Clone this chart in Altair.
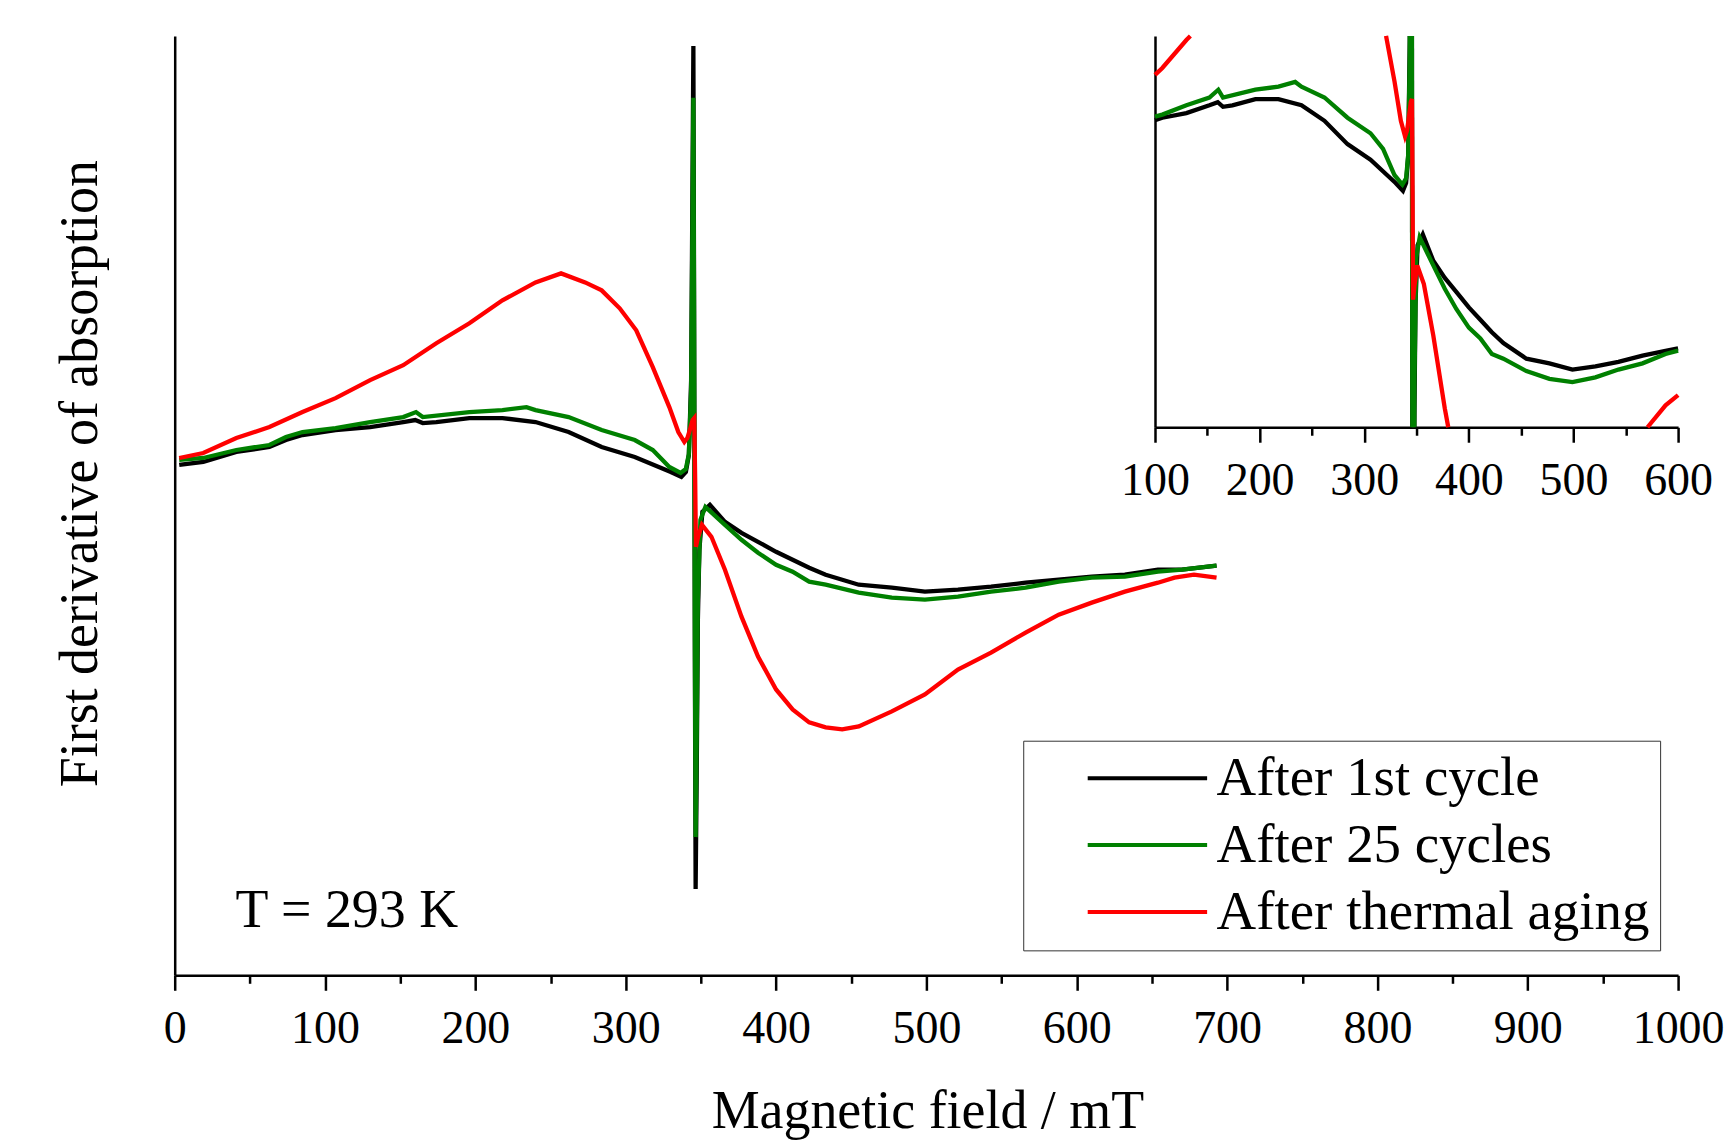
import altair as alt
import pandas as pd

# ---------------- data (y in arbitrary units) ----------------
series_names = ["After 1st cycle", "After 25 cycles", "After thermal aging"]
series_colors = ["#000000", "#008000", "#ff0000"]

black_x = [3, 19, 41, 63, 74, 85, 107, 130, 152, 160, 165, 174, 196, 218, 240, 262, 284, 306, 322, 330,
           337, 340, 342, 343.5, 344.5, 345, 345.5, 346, 346.5, 347.2, 348, 349, 351, 356, 366, 377, 388,
           400, 411, 422, 433, 455, 477, 499, 521, 543, 566, 588, 610, 632, 654, 670, 693]
black_y = [-5, -2, 8, 13, 20, 25, 30, 33, 38, 40, 37, 38, 42, 42, 38, 28, 13, 3, -7, -12,
           -17, -12, 5, 80, 300, 415, 150, -200, -430, -320, -160, -90, -52, -45, -62, -73, -82,
           -92, -100, -108, -115, -125, -128, -132, -130, -127, -123, -120, -117, -115, -110, -110, -106]

green_x = [3, 19, 41, 63, 74, 85, 107, 130, 152, 160.5, 165, 196, 218, 234, 240, 262, 284, 306, 318, 329,
           336.5, 340, 342, 343.5, 344.5, 345, 345.5, 346, 346.5, 347.2, 348, 349.7, 353, 366, 377, 388,
           400, 411, 422, 433, 455, 477, 499, 521, 543, 566, 588, 610, 632, 654, 670, 693]
green_y = [0, 2, 10, 15, 23, 28, 32, 38, 43, 48, 43, 48, 50, 53, 50, 43, 30, 20, 10, -7,
           -13, -9, 6, 70, 260, 363, 120, -180, -378, -280, -140, -60, -47, -65, -80, -93,
           -105, -112, -122, -125, -133, -138, -140, -137, -132, -128, -122, -118, -117, -112, -110, -106]

red_x = [3, 19, 41, 63, 85, 107, 130, 152, 174, 196, 218, 240, 257, 273, 284, 296, 307, 318, 329, 335,
         339, 341, 343, 344.5, 345.6, 346.2, 346.7, 348, 350.7, 357, 366, 377, 388, 400, 411, 422, 433,
         444, 455, 477, 499, 521, 543, 566, 588, 610, 632, 654, 665, 678, 693]
red_y = [2, 7, 22, 33, 48, 62, 80, 95, 117, 137, 160, 178, 187, 178, 170, 152, 130, 93, 53, 28,
         18, 22, 32, 40, 42, -20, -87, -78, -65, -77, -110, -157, -197, -230, -250, -263, -268,
         -270, -267, -252, -235, -210, -193, -173, -155, -143, -132, -123, -118, -115, -118]

x_ticks_main = list(range(0, 1001, 50))
x_ticks_inset = list(range(100, 601, 50))

main_x_domain = [0, 1000]
main_y_domain = [-516.5, 425]
inset_x_domain = [100, 600]
inset_y_domain = [-169.1, 82.6]

annotation_text = ["T = 293 K"]
annotation_x = [40.5]
annotation_y = [-468]

FONT = "Liberation Serif"
W, H = 1506, 941
INSET_LEFT, INSET_BOTTOM = 982, 392

series_data = [(series_names[0], black_x, black_y),
               (series_names[1], green_x, green_y),
               (series_names[2], red_x, red_y)]

# main table
rows = []
for name, xs, ys in series_data:
    for i, (x, y) in enumerate(zip(xs, ys)):
        rows.append({"field": x, "signal": y, "series": name, "seg": name, "idx": i})
main_df = pd.DataFrame(rows)


def clip_poly(xs, ys, x0, x1, y0, y1):
    """Clip a polyline to a rectangle (Liang-Barsky), returning separate pieces."""
    pieces, cur = [], None
    for i in range(len(xs) - 1):
        ax, ay, bx, by = xs[i], ys[i], xs[i + 1], ys[i + 1]
        dx, dy = bx - ax, by - ay
        t0, t1, ok = 0.0, 1.0, True
        for p, q in ((-dx, ax - x0), (dx, x1 - ax), (-dy, ay - y0), (dy, y1 - ay)):
            if p == 0:
                if q < 0:
                    ok = False
                    break
            else:
                r = q / p
                if p < 0:
                    if r > t1:
                        ok = False
                        break
                    t0 = max(t0, r)
                else:
                    if r < t0:
                        ok = False
                        break
                    t1 = min(t1, r)
        if not ok:
            cur = None
            continue
        p0 = (ax + t0 * dx, ay + t0 * dy)
        p1 = (ax + t1 * dx, ay + t1 * dy)
        if cur is not None and t0 == 0.0:
            cur.append(p1)
        else:
            cur = [p0, p1]
            pieces.append(cur)
        if t1 < 1.0:
            cur = None
    return pieces


rows = []
for name, xs, ys in series_data:
    pieces = clip_poly(xs, ys, inset_x_domain[0], inset_x_domain[1], inset_y_domain[0], inset_y_domain[1])
    k = 0
    for j, piece in enumerate(pieces):
        for (x, y) in piece:
            rows.append({"field": x, "signal": y, "series": name, "seg": f"{name}-{j}", "idx": k})
            k += 1
inset_df = pd.DataFrame(rows)

text_df = pd.DataFrame({"field": annotation_x, "signal": annotation_y, "label": annotation_text})

# ---------------- encodings ----------------
major_test = "datum.value % 100 === 0"
tick_size = {"condition": {"test": major_test, "value": 15}, "value": 8}

axis_common = dict(
    domainColor="black", domainWidth=2.5, tickColor="black", tickWidth=2.5,
    labelFont=FONT, labelFontSize=46, labelColor="black", grid=False,
    labelFlush=False, labelOverlap=False,
)

x_main = alt.X(
    "field:Q",
    scale=alt.Scale(domain=main_x_domain, nice=False, zero=False),
    axis=alt.Axis(
        values=x_ticks_main, format="d",
        labelExpr=f"{major_test} ? datum.label : ''",
        tickSize=tick_size, labelPadding=52, labelBaseline="alphabetic",
        title="Magnetic field / mT", titleFont=FONT, titleFontSize=54, titleFontWeight="normal",
        titleColor="black", titleX=754, titleY=152, titleAlign="center", titleBaseline="alphabetic",
        **axis_common,
    ),
)
y_main = alt.Y(
    "signal:Q",
    scale=alt.Scale(domain=main_y_domain, nice=False, zero=False),
    axis=alt.Axis(
        ticks=False, labels=False, domainColor="black", domainWidth=2.5, grid=False,
        title="First derivative of absorption", titleFont=FONT, titleFontSize=54,
        titleFontWeight="normal", titleColor="black", titleAngle=270, titleX=-78, titleY=438,
        titleAlign="center", titleBaseline="alphabetic",
    ),
)

color_enc = alt.Color(
    "series:N",
    scale=alt.Scale(domain=series_names, range=series_colors),
    legend=alt.Legend(
        title=None, orient="none", legendX=850, legendY=706, direction="vertical",
        symbolType="M-3,0L3,0", symbolSize=1590, symbolStrokeWidth=4,
        labelFont=FONT, labelFontSize=55, labelColor="black", labelLimit=2000,
        labelOffset=41.8, symbolOffset=86.9, rowPadding=11, padding=10,
        strokeColor="#333333",
    ),
)

main_lines = alt.Chart(main_df).mark_line(strokeWidth=4.3).encode(
    x=x_main, y=y_main, color=color_enc, detail="seg:N", order="idx:Q"
)

annotation = alt.Chart(text_df).mark_text(
    font=FONT, fontSize=54, color="black", align="left", baseline="alphabetic"
).encode(x=x_main, y=y_main, text="label:N")

x_inset = alt.X(
    "field:Q",
    scale=alt.Scale(domain=inset_x_domain, range=[INSET_LEFT, W], nice=False, zero=False),
    axis=alt.Axis(
        orient="bottom", offset=-(H - INSET_BOTTOM), values=x_ticks_inset, format="d",
        labelExpr=f"{major_test} ? datum.label : ''",
        tickSize=tick_size, labelPadding=52, labelBaseline="alphabetic", title=None,
        **axis_common,
    ),
)
y_inset = alt.Y(
    "signal:Q",
    scale=alt.Scale(domain=inset_y_domain, range=[INSET_BOTTOM, 0], nice=False, zero=False),
    axis=alt.Axis(orient="left", offset=-INSET_LEFT, ticks=False, labels=False,
                  domainColor="black", domainWidth=2.5, grid=False, title=None),
)

inset_lines = alt.Chart(inset_df).mark_line(strokeWidth=4.3).encode(
    x=x_inset, y=y_inset, color=color_enc, detail="seg:N", order="idx:Q"
)

chart = alt.layer(
    alt.layer(main_lines, annotation),
    inset_lines,
).resolve_scale(
    x="independent", y="independent"
).properties(
    width=W, height=H,
    autosize=alt.AutoSizeParams(type="none"),
    padding={"left": 167, "top": 27, "right": 50, "bottom": 166},
).configure_view(stroke=None)

chart.save("out.html", embed_options={"renderer": "svg", "actions": False})
